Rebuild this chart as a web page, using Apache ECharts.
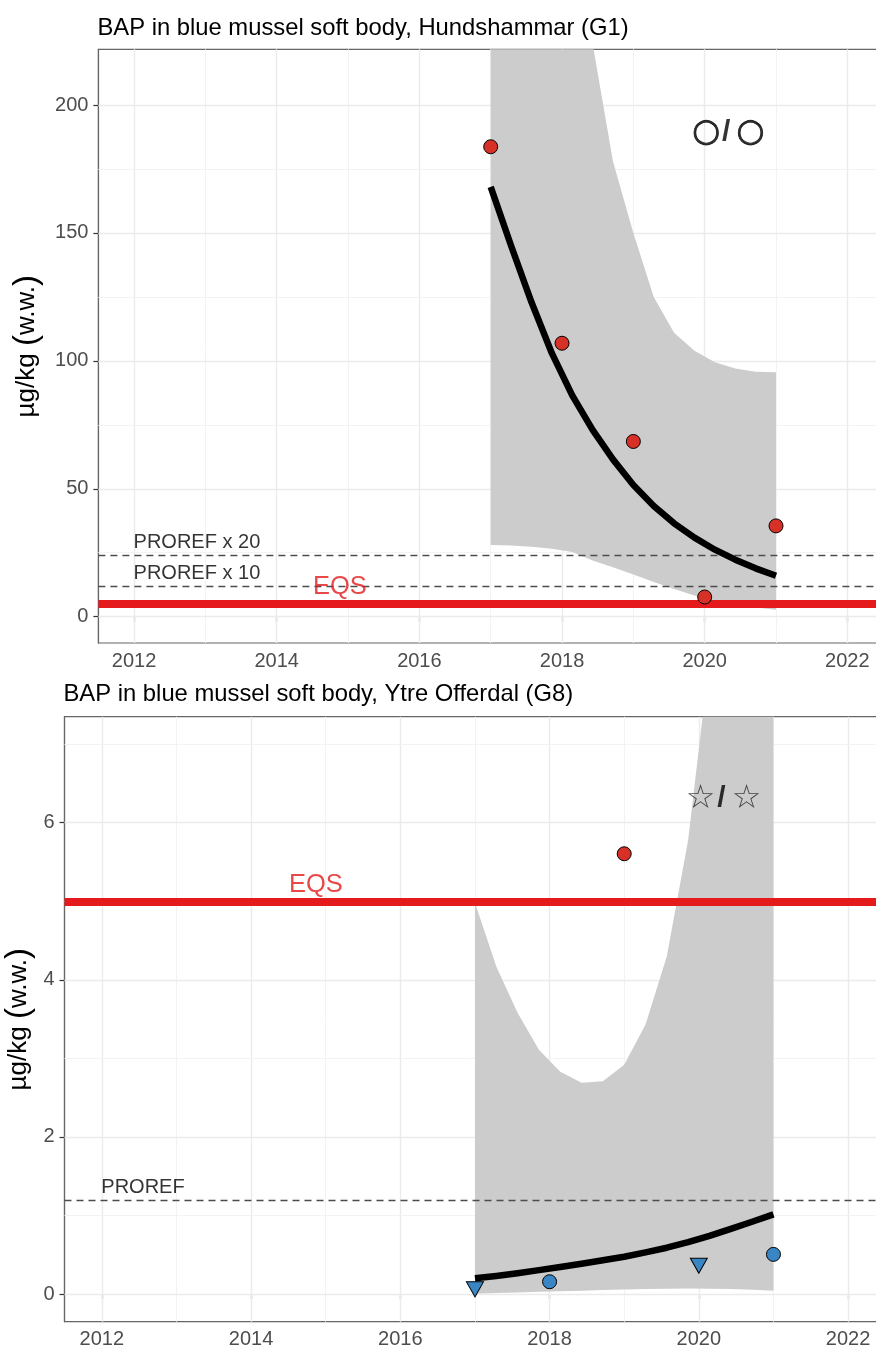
<!DOCTYPE html>
<html>
<head>
<meta charset="utf-8">
<script src="https://cdn.jsdelivr.net/npm/echarts@6/dist/echarts.min.js"></script>
<style>
html,body{margin:0;padding:0;background:#ffffff;}
#c{width:876px;height:1347px;}
</style>
</head>
<body>
<div id="c"></div>
<script>
// ---------------- data: panel 1 (Hundshammar G1) ----------------
const title1 = 'BAP in blue mussel soft body, Hundshammar (G1)';
const years1 = [2017, 2018, 2019, 2020, 2021];
const values1 = [183.7, 106.9, 68.5, 7.7, 35.5];
const shapes1 = ['circle', 'circle', 'circle', 'circle', 'circle'];
const classes1 = ['over', 'over', 'over', 'over', 'over'];
const trendYears1 = [2017, 2017.286, 2017.571, 2017.857, 2018.143, 2018.429, 2018.714, 2019, 2019.286, 2019.571, 2019.857, 2020.143, 2020.429, 2020.714, 2021];
const trend1 = [168, 145, 123, 103, 86.5, 73, 61.5, 51.5, 43.3, 36.5, 30.9, 26.2, 22.3, 18.9, 16];
const lower1 = [28, 27.8, 27.3, 26.6, 25.3, 22.0, 19.3, 16.5, 13.6, 10.8, 8.3, 6.2, 4.8, 3.6, 2.7];
const upper1 = [1400, 950, 640, 440, 310, 224, 178, 150, 125, 111, 104, 99.5, 97, 95.8, 95.6];
const thrNames1 = ['PROREF x 20', 'PROREF x 10', 'EQS'];
const thrValues1 = [24, 12, 5];
const trendSymbol1 = '○';
const yMajor1 = [0, 50, 100, 150, 200];
const yMinor1 = [25, 75, 125, 175];

// ---------------- data: panel 2 (Ytre Offerdal G8) ----------------
const title2 = 'BAP in blue mussel soft body, Ytre Offerdal (G8)';
const years2 = [2017, 2018, 2019, 2020, 2021];
const values2 = [0.06, 0.157, 5.605, 0.36, 0.505];
const shapes2 = ['triangle', 'circle', 'circle', 'triangle', 'circle'];
const classes2 = ['under', 'under', 'over', 'under', 'under'];
const trendYears2 = [2017, 2017.286, 2017.571, 2017.857, 2018.143, 2018.429, 2018.714, 2019, 2019.286, 2019.571, 2019.857, 2020.143, 2020.429, 2020.714, 2021];
const trend2 = [0.20, 0.23, 0.265, 0.305, 0.345, 0.385, 0.43, 0.475, 0.53, 0.59, 0.66, 0.74, 0.83, 0.92, 1.015];
const lower2 = [0.005, 0.012, 0.02, 0.028, 0.035, 0.043, 0.05, 0.058, 0.064, 0.068, 0.07, 0.069, 0.065, 0.055, 0.042];
const upper2 = [4.98, 4.17, 3.58, 3.11, 2.83, 2.69, 2.71, 2.92, 3.43, 4.30, 5.78, 8.1, 12, 18, 25];
const thrNames2 = ['PROREF', 'EQS'];
const thrValues2 = [1.2, 5];
const trendSymbol2 = '☆';
const yMajor2 = [0, 2, 4, 6];
const yMinor2 = [1, 3, 5, 7];

// ---------------- shared axis ticks ----------------
const xMajor = [2012, 2014, 2016, 2018, 2020, 2022];
const xMinor = [2013, 2015, 2017, 2019, 2021];

// ---------------- styling / layout ----------------
const FONT = '"Liberation Sans", Arial, sans-serif';
const SYMFONT = '"DejaVu Sans", sans-serif';
const EQS_COLOR = '#E41A1C';
const COLORS = { over: '#D73027', under: '#3A85C4' };

const panels = [
  { title: title1, years: years1, values: values1, shapes: shapes1, classes: classes1,
    tYears: trendYears1, trend: trend1, lower: lower1, upper: upper1,
    thrNames: thrNames1, thrValues: thrValues1, sym: trendSymbol1, symBold: true,
    yMajor: yMajor1, yMinor: yMinor1,
    grid: { left: 98.4, top: 49.3, width: 784.6, height: 593.7 },
    xRange: [2011.5, 2022.5], yRange: [-10.28, 221.8],
    symAnchor: [2020.33, 189.3], titleTop: 11, nameGap: 55 },
  { title: title2, years: years2, values: values2, shapes: shapes2, classes: classes2,
    tYears: trendYears2, trend: trend2, lower: lower2, upper: upper2,
    thrNames: thrNames2, thrValues: thrValues2, sym: trendSymbol2, symBold: false,
    yMajor: yMajor2, yMinor: yMinor2,
    grid: { left: 64.5, top: 716.7, width: 820.9, height: 605 },
    xRange: [2011.5, 2022.5], yRange: [-0.352, 7.35],
    symAnchor: [2020.33, 6.30], titleTop: 677, nameGap: 29 }
];

const option = {
  animation: false,
  backgroundColor: '#ffffff',
  title: [], grid: [], xAxis: [], yAxis: [], series: []
};

panels.forEach((p, i) => {
  option.title.push({
    text: p.title, left: p.grid.left - 6, top: p.titleTop,
    textStyle: { fontFamily: FONT, fontSize: 23.8, fontWeight: 'normal', color: '#000' }
  });
  option.grid.push(Object.assign({
    show: true, borderColor: '#666', borderWidth: 1.2, backgroundColor: 'transparent',
    containLabel: false, outerBoundsMode: 'none'
  }, p.grid));
  option.xAxis.push({
    type: 'value', gridIndex: i, min: p.xRange[0], max: p.xRange[1],
    splitLine: { show: false },
    axisLine: { show: true, lineStyle: { color: '#666', width: 1.2 } },
    axisTick: { show: true, customValues: xMajor, length: 5, lineStyle: { color: '#333', width: 1.2 } },
    axisLabel: { show: true, customValues: xMajor, margin: 8, fontFamily: FONT, fontSize: 20, color: '#4d4d4d',
      formatter: v => String(Math.round(v)) }
  });
  option.yAxis.push({
    type: 'value', gridIndex: i, min: p.yRange[0], max: p.yRange[1],
    name: '{a|µg/kg} {p|(}{a|w.w.}{p|)}', nameLocation: 'middle', nameGap: p.nameGap,
    nameMoveOverlap: false,
    nameTextStyle: {
      fontFamily: FONT, fontSize: 26, color: '#000',
      rich: {
        a: { fontFamily: FONT, fontSize: 26, color: '#000' },
        p: { fontFamily: FONT, fontSize: 33, color: '#000' }
      }
    },
    splitLine: { show: false },
    axisLine: { show: true, lineStyle: { color: '#666', width: 1.2 } },
    axisTick: { show: true, customValues: p.yMajor, length: 5, lineStyle: { color: '#333', width: 1.2 } },
    axisLabel: { show: true, customValues: p.yMajor, margin: 10, fontFamily: FONT, fontSize: 20, color: '#4d4d4d',
      formatter: v => String(Math.round(v * 100) / 100) }
  });

  // grid lines (drawn via markLine on the library's scales)
  const gridLines = [];
  xMajor.forEach(v => gridLines.push({ xAxis: v, lineStyle: { color: '#ebebeb', width: 1.4, type: 'solid' } }));
  xMinor.forEach(v => gridLines.push({ xAxis: v, lineStyle: { color: '#f3f3f3', width: 1.0, type: 'solid' } }));
  p.yMajor.forEach(v => gridLines.push({ yAxis: v, lineStyle: { color: '#ebebeb', width: 1.4, type: 'solid' } }));
  p.yMinor.forEach(v => gridLines.push({ yAxis: v, lineStyle: { color: '#f3f3f3', width: 1.0, type: 'solid' } }));

  // confidence band as a clipped polygon
  option.series.push({
    type: 'custom', xAxisIndex: i, yAxisIndex: i, z: 2, silent: true,
    data: p.tYears.map((x, k) => [x, p.lower[k], p.upper[k]]),
    encode: { x: 0, y: [1, 2] },
    renderItem: (params, api) => {
      if (params.dataIndex !== 0) return null;
      const up = [], lo = [];
      for (let k = 0; k < p.tYears.length; k++) {
        up.push(api.coord([p.tYears[k], p.upper[k]]));
        lo.push(api.coord([p.tYears[k], p.lower[k]]));
      }
      const pts = up.concat(lo.reverse());
      const cs = params.coordSys;
      return {
        type: 'polygon', shape: { points: pts }, style: { fill: '#cccccc', stroke: null },
        clipPath: { type: 'rect', shape: { x: cs.x, y: cs.y, width: cs.width, height: cs.height } }
      };
    }
  });

  // thresholds
  const thrLines = p.thrNames.map((n, k) => n === 'EQS'
    ? { yAxis: p.thrValues[k], lineStyle: { color: EQS_COLOR, width: 8, type: 'solid' } }
    : { yAxis: p.thrValues[k], lineStyle: { color: '#4d4d4d', width: 1.3, type: [7, 5] } });

  // trend line
  option.series.push({
    type: 'line', xAxisIndex: i, yAxisIndex: i, z: 4, silent: true,
    symbol: 'none', smooth: false,
    lineStyle: { color: '#000', width: 6.5, cap: 'butt', join: 'round' },
    data: p.tYears.map((x, k) => [x, p.trend[k]]),
    markLine: { z: 3, silent: true, symbol: ['none', 'none'], label: { show: false }, animation: false, data: thrLines }
  });

  // points
  option.series.push({
    type: 'scatter', xAxisIndex: i, yAxisIndex: i, z: 5, silent: true,
    data: p.years.map((x, k) => {
      const tri = p.shapes[k] === 'triangle';
      return {
        value: [x, p.values[k]],
        symbol: tri ? 'triangle' : 'circle',
        symbolRotate: tri ? 180 : 0,
        symbolSize: tri ? [17, 15] : 14,
        itemStyle: { color: COLORS[p.classes[k]], borderColor: '#000', borderWidth: 1, opacity: 1 }
      };
    }),
    markLine: { z: 1, silent: true, symbol: ['none', 'none'], label: { show: false }, animation: false, data: gridLines }
  });

  // threshold labels
  option.series.push({
    type: 'scatter', xAxisIndex: i, yAxisIndex: i, z: 6, silent: true,
    symbolSize: 1, itemStyle: { color: 'rgba(0,0,0,0)' },
    data: p.thrNames.map((n, k) => {
      const eqs = n === 'EQS';
      return {
        value: [eqs ? 2014.5 : 2012, p.thrValues[k]],
        label: {
          show: true, formatter: n, position: 'insideBottomLeft', distance: 0,
          offset: eqs ? [1, -4] : [0, -3],
          fontFamily: FONT, fontSize: eqs ? 25.5 : 20, color: eqs ? EQS_COLOR : '#000'
        }
      };
    })
  });

  // trend symbol  (symbol / symbol)
  const symStyle = p.symBold
    ? { fontFamily: SYMFONT, fontSize: 32, color: '#000', textBorderColor: '#000', textBorderWidth: 0.9 }
    : { fontFamily: SYMFONT, fontSize: 33, color: '#222' };
  option.series.push({
    type: 'scatter', xAxisIndex: i, yAxisIndex: i, z: 6, silent: true,
    symbolSize: 1, itemStyle: { color: 'rgba(0,0,0,0)' },
    data: [{
      value: p.symAnchor,
      label: {
        show: true, position: 'inside', align: 'center', verticalAlign: 'middle',
        formatter: '{c|' + p.sym + '}{s|/}{c|' + p.sym + '}',
        rich: {
          c: symStyle,
          s: { fontFamily: FONT, fontSize: 30, fontWeight: 'bold', color: '#000', padding: [0, 6, 0, 2] }
        }
      }
    }]
  });
});

const chart = echarts.init(document.getElementById('c'), null, { renderer: 'canvas' });
chart.setOption(option);
</script>
</body>
</html>
